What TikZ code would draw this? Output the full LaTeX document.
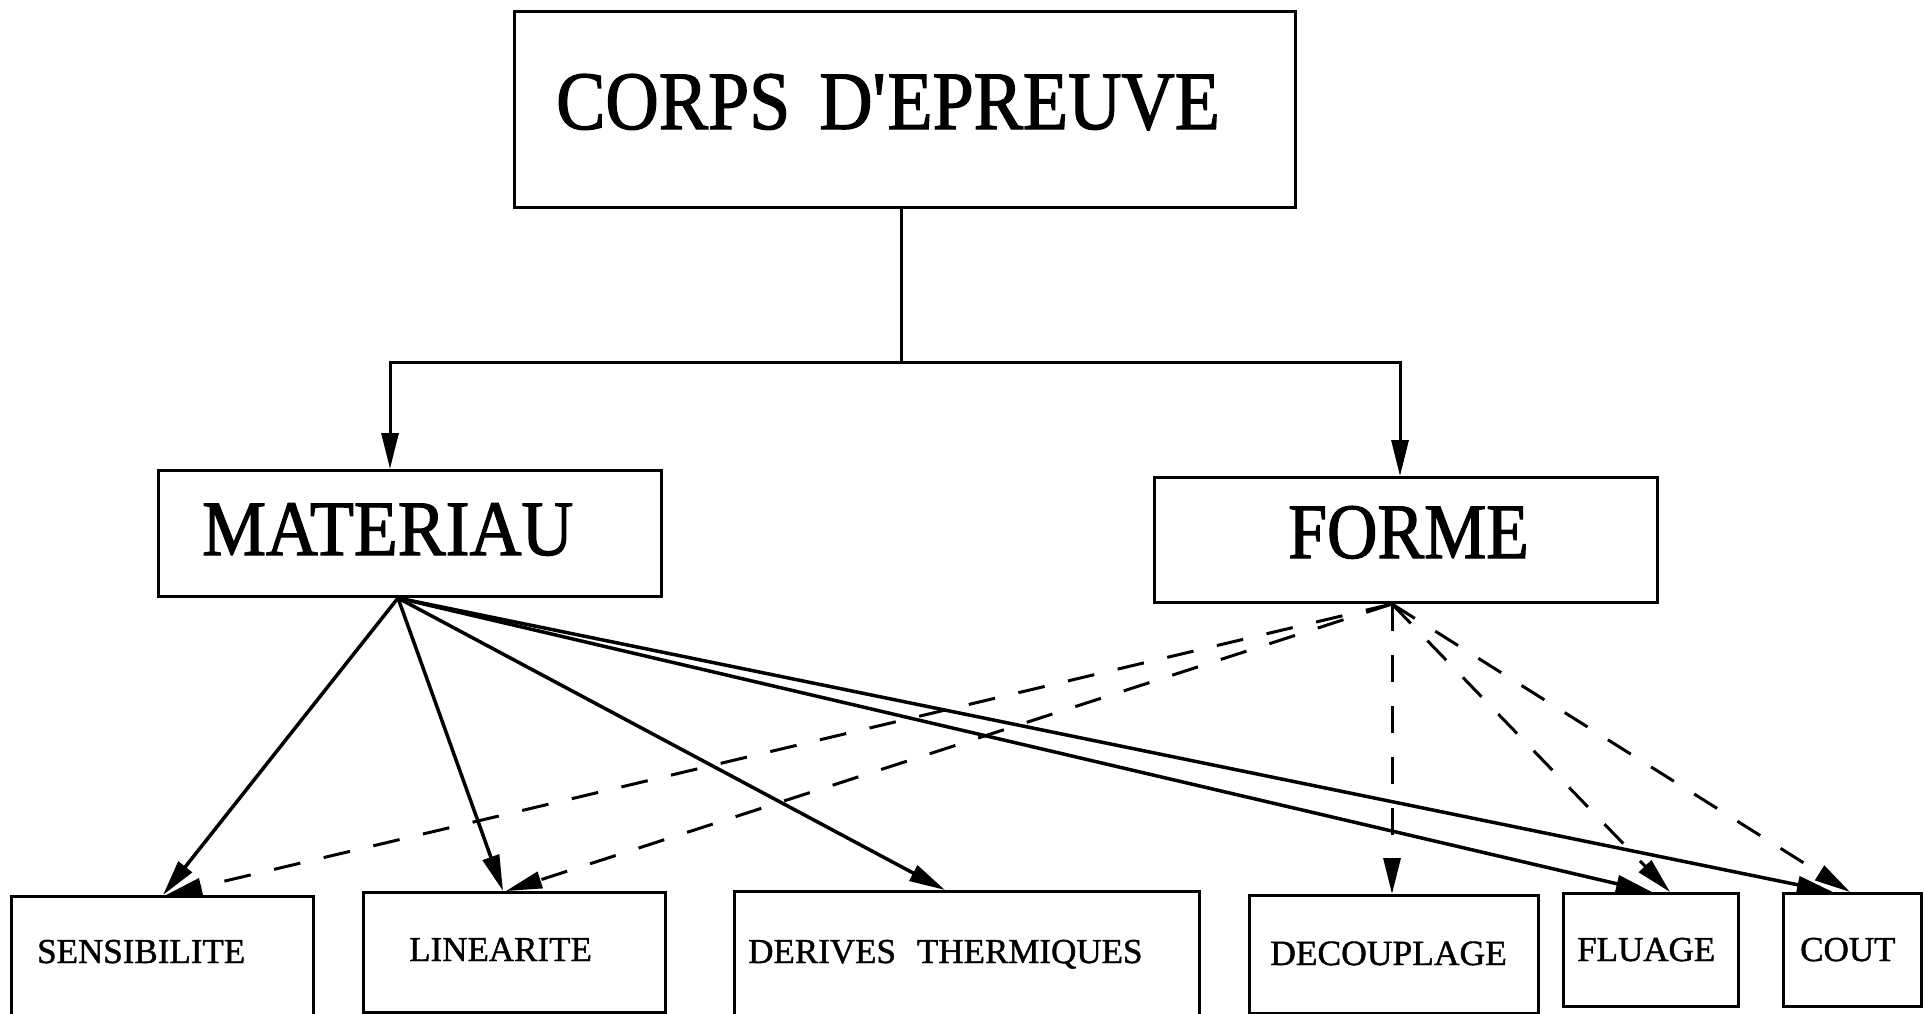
\documentclass[tikz,border=0pt]{standalone}
\usepackage{fontspec}
\setmainfont{Liberation Serif}
\newfontfamily\leafserif[FakeBold=1.2]{Liberation Serif}
\newfontfamily\condserif[FakeStretch=0.89,FakeBold=1.5]{Liberation Serif}
\newfontfamily\condserifwide[FakeStretch=0.915,FakeBold=1.5]{Liberation Serif}
\usetikzlibrary{arrows.meta}

\begin{document}
\begin{tikzpicture}[x=1pt,y=-1pt,
  box/.style={draw, line width=3pt, rectangle, inner sep=0pt, anchor=north west},
  title/.style={inner sep=0pt, anchor=base west, font=\condserif\fontsize{83}{90}\selectfont},
  head/.style={inner sep=0pt, anchor=base west, font=\condserif\fontsize{78.5}{85}\selectfont},
  leaf/.style={inner sep=0pt, anchor=base west, font=\leafserif\fontsize{35}{40}\selectfont},
  tip/.style={-{Triangle[length=36pt,width=17pt]}},
  link/.style={line width=3pt},
  solidarrow/.style={line width=3.5pt, tip},
  dasharrow/.style={line width=3pt, dash pattern=on 27pt off 24pt, tip},
]
\clip (0,0) rectangle (1924,1014);
\fill[white] (0,0) rectangle (1924,1014);

% boxes
\node[box, minimum width=781pt, minimum height=196pt] (corps) at (513,10) {};
\node[box, minimum width=503pt, minimum height=126pt] (materiau) at (157,469) {};
\node[box, minimum width=503pt, minimum height=125pt] (forme) at (1153,476) {};
\node[box, minimum width=302pt, minimum height=150pt] (sens) at (10,895) {};
\node[box, minimum width=302pt, minimum height=120pt] (lin) at (362,891) {};
\node[box, minimum width=465pt, minimum height=150pt] (deriv) at (733,890) {};
\node[box, minimum width=289pt, minimum height=118pt] (decoup) at (1248,894) {};
\node[box, minimum width=175pt, minimum height=113pt] (fluage) at (1562,892) {};
\node[box, minimum width=138pt, minimum height=113pt] (cout) at (1782,892) {};

% labels
\node[title] (corpsT) at (556,129) {CORPS\hspace{0.35em}D\textquotesingle EPREUVE};
\node[head, font=\condserifwide\fontsize{78.5}{85}\selectfont] (materiauT) at (202,555) {MATERIAU};
\node[head] (formeT) at (1288,558) {FORME};
\node[leaf] (sensT) at (37,963) {SENSIBILITE};
\node[leaf] (linT) at (409,961) {LINEARITE};
\node[leaf] (derivT) at (748,963) {DERIVES\hspace{0.6em}THERMIQUES};
\node[leaf, font=\leafserif\fontsize{35.5}{42}\selectfont] (decoupT) at (1270,965) {DECOUPLAGE};
\node[leaf] (fluageT) at (1577,961) {FLUAGE};
\node[leaf] (coutT) at (1800,961) {COUT};

% tree from the top box
\coordinate (hub) at (901,362);
\draw[link] (901,0 |- corps.south) -- (hub);
\draw[link, tip] (hub) -| (390,0 |- materiau.north);
\draw[link, tip] (hub) -| (1400,0 |- forme.north);

% ports
\coordinate (mOut) at (398,0 |- materiau.south);
\coordinate (fOut) at (1392,0 |- forme.south);

% material links
\draw[solidarrow] (mOut) -- (163,0 |- sens.north);
\draw[solidarrow] (mOut) -- (503,0 |- lin.north);
\draw[solidarrow] (mOut) -- (945,0 |- deriv.north);
\draw[solidarrow] (mOut) -- (1652,0 |- fluage.north);
\draw[solidarrow] (mOut) -- (1833,0 |- cout.north);

% shape links
\draw[dasharrow] (fOut) -- (166,0 |- sens.north);
\draw[dasharrow] (fOut) -- (506,0 |- lin.north);
\draw[dasharrow] (fOut) -- (1392,0 |- decoup.north);
\draw[dasharrow] (fOut) -- (1670,0 |- fluage.north);
\draw[dasharrow] (fOut) -- (1850,0 |- cout.north);
\end{tikzpicture}
\end{document}
